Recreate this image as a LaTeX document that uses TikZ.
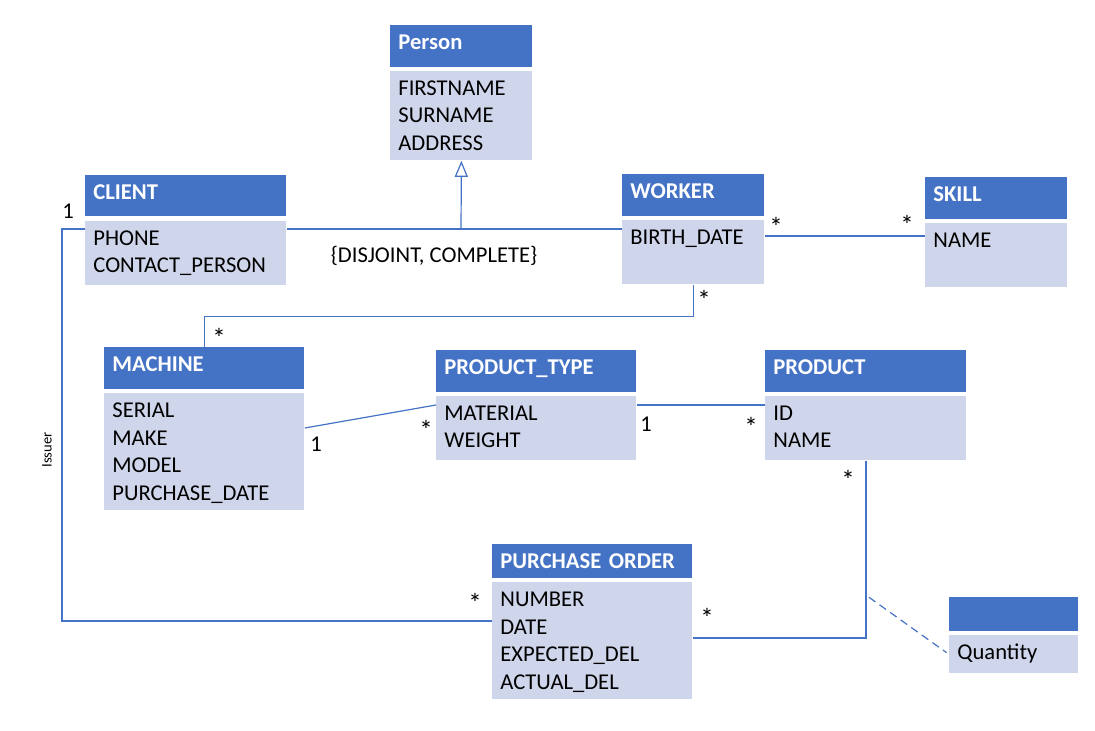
\documentclass[tikz,border=0pt]{standalone}
\usepackage{fontspec}
\setmainfont{Carlito}
\usepackage{xcolor}
\usetikzlibrary{arrows.meta,positioning,calc}

\definecolor{umlhead}{HTML}{4472C4}
\definecolor{umlbody}{HTML}{CFD5EA}
\definecolor{umlline}{HTML}{4472C4}
\newcommand{\umlfont}{\fontsize{11.3}{13.8}\selectfont}

\tikzset{
    clshead/.style={anchor=north west, fill=umlhead, text=white, font=\umlfont\bfseries,
        inner xsep=4pt, inner ysep=0pt, text height=12pt, text depth=9pt, align=left, text width=#1},
    clsbody/.style={anchor=north west, fill=umlbody, font=\umlfont,
        inner xsep=4pt, inner ysep=0pt, text height=12pt, align=left, text width=#1},
    mult/.style={font=\umlfont, inner sep=0pt},
    many/.style={font=\fontsize{13.5}{15}\selectfont, inner sep=0pt},
    assoc/.style={draw=umlline, line width=0.6pt}
}

\begin{document}
\begin{tikzpicture}[x=0.5pt,y=-0.5pt]
    \useasboundingbox (0,0) rectangle (1095,731);

    % Person
    \node[clshead=63pt] (person-h) at (390,25) {Person};
    \node[clsbody=63pt, text depth=32.5pt] (person-b) at (390,71) {FIRSTNAME\\SURNAME\\ADDRESS};

    % Client and worker
    \node[clshead=92.5pt, text depth=8.5pt] (client-h) at (85,175) {CLIENT};
    \node[clsbody=92.5pt, text depth=20pt] (client-b) at (85,221) {PHONE\\CONTACT\_PERSON};
    \node[clshead=63pt] (worker-h) at (622,174) {WORKER};
    \node[clsbody=63pt, text depth=20pt] (worker-b) at (622,220) {BIRTH\_DATE};

    % Skill
    \node[clshead=63pt] (skill-h) at (925,177) {SKILL};
    \node[clsbody=63pt, text depth=20pt] (skill-b) at (925,223) {NAME};

    % Machine, product type, product
    \node[clshead=92pt] (machine-h) at (104,347) {MACHINE};
    \node[clsbody=92pt, text depth=46.5pt] (machine-b) at (104,393) {SERIAL\\MAKE\\MODEL\\PURCHASE\_DATE};
    \node[clshead=92pt] (ptype-h) at (436,350) {PRODUCT\_TYPE};
    \node[clsbody=92pt, text depth=20pt] (ptype-b) at (436,396) {MATERIAL\\WEIGHT};
    \node[clshead=92.5pt] (product-h) at (765,350) {PRODUCT};
    \node[clsbody=92.5pt, text depth=20pt] (product-b) at (765,396) {ID\\NAME};

    % Purchase order
    \node[clshead=92pt, text depth=5pt] (order-h) at (492,544) {PURCHASE ORDER};
    \node[clsbody=92pt, text depth=46.5pt] (order-b) at (492,582) {NUMBER\\DATE\\EXPECTED\_DEL\\ACTUAL\_DEL};

    % Association class
    \node[clshead=56.5pt, text depth=5pt] (qty-h) at (949,597) {};
    \node[clsbody=56.5pt, text depth=7pt] (qty-b) at (949,635) {Quantity};

    % Generalization
    \coordinate (gen) at (461,229);
    \draw[assoc, -{Triangle[open, width=6.5pt, length=8pt]}] (gen) -- (person-b.south);
    \draw[assoc] (client-b.east |- gen) -- (worker-b.west |- gen);
    \node[font=\umlfont] (gen-label) at (434,256) {\{DISJOINT, COMPLETE\}};

    % Associations
    \draw[assoc] ([yshift=-8pt]worker-b.north east) -- ([yshift=-6.5pt]skill-b.north west);
    \draw[assoc] (worker-b.south) -- ++(0,32) -| (machine-h.north);
    \draw[assoc] ([yshift=-17.5pt]machine-b.north east) -- ([yshift=-4.5pt]ptype-b.north west);
    \draw[assoc] ([yshift=-4.5pt]ptype-b.north east) -- ([yshift=-4.5pt]product-b.north west);
    \draw[assoc] (client-b.west |- gen) -- ++(-23,0) |- ([yshift=-19.5pt]order-b.north west);
    \draw[assoc] (product-b.south) |- coordinate[pos=0.385] (qty-at) ([yshift=-28pt]order-b.north east);
    \draw[assoc, dash pattern=on 4pt off 2.5pt, shorten >=1.5pt] ([xshift=1.5pt]qty-at) -- (qty-b.west);
    \node[font=\fontsize{7.3}{8}\selectfont, rotate=90] (issuer) at (47,450) {Issuer};

    % Multiplicities
    \node[mult] (m-client) at (68,211.5) {1};
    \node[many] (m-order-l) at (475,603) {*};
    \node[many] (m-worker-r) at (776,227) {*};
    \node[many] (m-skill) at (907,225) {*};
    \node[many] (m-worker-b) at (704,300) {*};
    \node[many] (m-machine-t) at (219,338) {*};
    \node[mult] (m-machine-r) at (316,444) {1};
    \node[many] (m-ptype-l) at (426,430) {*};
    \node[mult] (m-ptype-r) at (646,424) {1};
    \node[many] (m-product-l) at (751,427) {*};
    \node[many] (m-product-b) at (848,480) {*};
    \node[many] (m-order-r) at (707,618) {*};

\end{tikzpicture}
\end{document}
